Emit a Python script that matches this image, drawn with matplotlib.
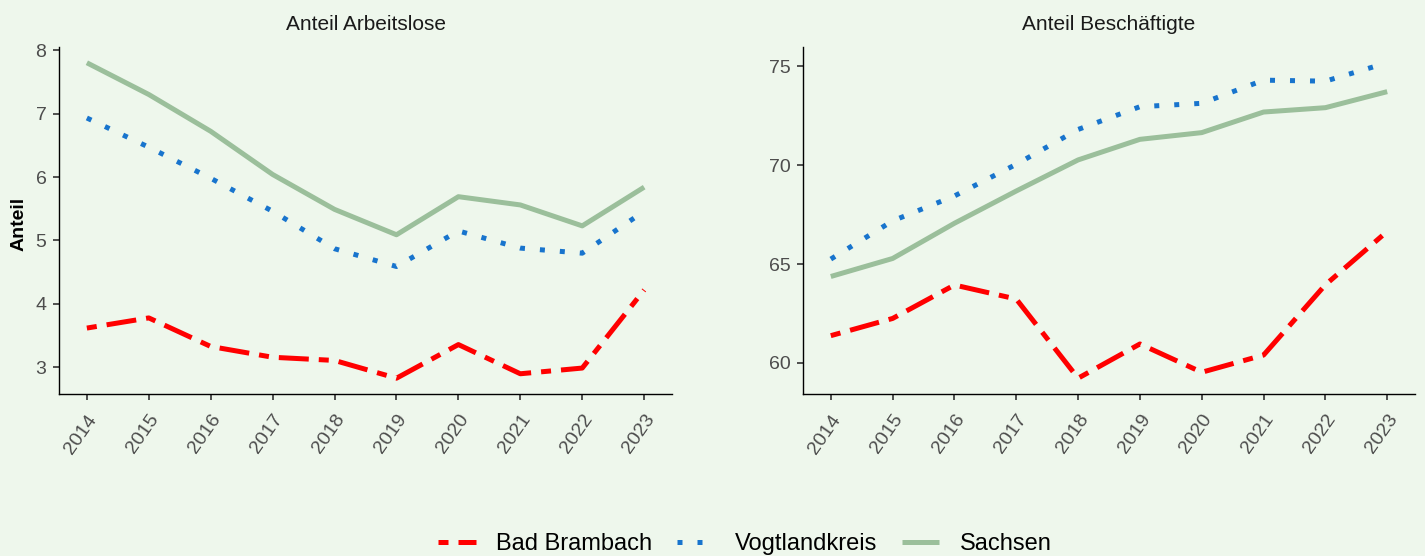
import matplotlib.pyplot as plt
import numpy as np

plt.rcParams['font.family'] = ['Liberation Sans', 'DejaVu Sans']

years = [2014, 2015, 2016, 2017, 2018, 2019, 2020, 2021, 2022, 2023]
regions = ["Bad Brambach", "Vogtlandkreis", "Sachsen"]

# Anteil Arbeitslose
alo_brambach = [3.62, 3.78, 3.33, 3.16, 3.11, 2.83, 3.36, 2.90, 2.99, 4.22]
alo_vogtland = [6.93, 6.47, 5.98, 5.46, 4.87, 4.59, 5.15, 4.88, 4.80, 5.46]
alo_sachsen = [7.80, 7.30, 6.72, 6.04, 5.49, 5.09, 5.69, 5.56, 5.23, 5.84]

# Anteil Beschäftigte
bes_brambach = [61.38, 62.25, 63.94, 63.23, 59.23, 60.96, 59.53, 60.40, 63.95, 66.65]
bes_vogtland = [65.25, 67.18, 68.44, 70.04, 71.80, 72.95, 73.12, 74.29, 74.24, 75.17]
bes_sachsen = [64.37, 65.28, 67.06, 68.69, 70.26, 71.30, 71.64, 72.68, 72.90, 73.71]

bg = '#EEF7EC'
colors = ['#FF0000', '#1874CD', '#9BBF9B']
dashes = [(2, 2, 6, 2), (1, 3), None]
lw = 3.6

fig = plt.figure(figsize=(14.25, 5.56), dpi=100, facecolor=bg)
ax1 = fig.add_axes([0.0414, 0.2914, 0.4302, 0.6241])
ax2 = fig.add_axes([0.5635, 0.2914, 0.4295, 0.6241])

panels = [
    (ax1, "Anteil Arbeitslose", [alo_brambach, alo_vogtland, alo_sachsen], [3, 4, 5, 6, 7, 8]),
    (ax2, "Anteil Beschäftigte", [bes_brambach, bes_vogtland, bes_sachsen], [60, 65, 70, 75]),
]

for ax, title, series, yticks in panels:
    ax.set_facecolor(bg)
    for name, vals, c, d in zip(regions, series, colors, dashes):
        line, = ax.plot(years, vals, color=c, lw=lw, label=name,
                        solid_capstyle='butt', dash_capstyle='butt')
        if d is not None:
            line.set_dashes(d)
    allv = np.concatenate([np.array(s) for s in series])
    lo, hi = allv.min(), allv.max()
    pad = (hi - lo) * 0.05
    ax.set_ylim(lo - pad, hi + pad)
    ax.set_xlim(years[0] - 0.45, years[-1] + 0.45)
    ax.set_yticks(yticks)
    ax.set_xticks(years)
    ax.set_xticklabels([str(y) for y in years], rotation=55, ha='right',
                       va='top', rotation_mode='anchor')
    ax.set_title(title, fontsize=15, color='#1A1A1A', pad=12)
    for s in ['top', 'right']:
        ax.spines[s].set_visible(False)
    for s in ['left', 'bottom']:
        ax.spines[s].set_linewidth(1.0)
        ax.spines[s].set_color('black')
    ax.tick_params(axis='both', length=4.5, width=1.2, color='#333333',
                   labelcolor='#4D4D4D', labelsize=14)
    ax.tick_params(axis='x', pad=8)
    ax.tick_params(axis='y', pad=4.5)

ax1.set_ylabel("Anteil", fontsize=14, fontweight='bold', color='black')
ax1.yaxis.set_label_coords(-0.052, 0.49)

handles, labels = ax1.get_legend_handles_labels()
fig.legend(handles, labels, loc='center', bbox_to_anchor=(0.5225, 0.022),
           ncol=3, frameon=False, fontsize=17, handlelength=1.6,
           handletextpad=0.85, columnspacing=1.05)

fig.savefig('out.png', dpi=100, facecolor=bg)
